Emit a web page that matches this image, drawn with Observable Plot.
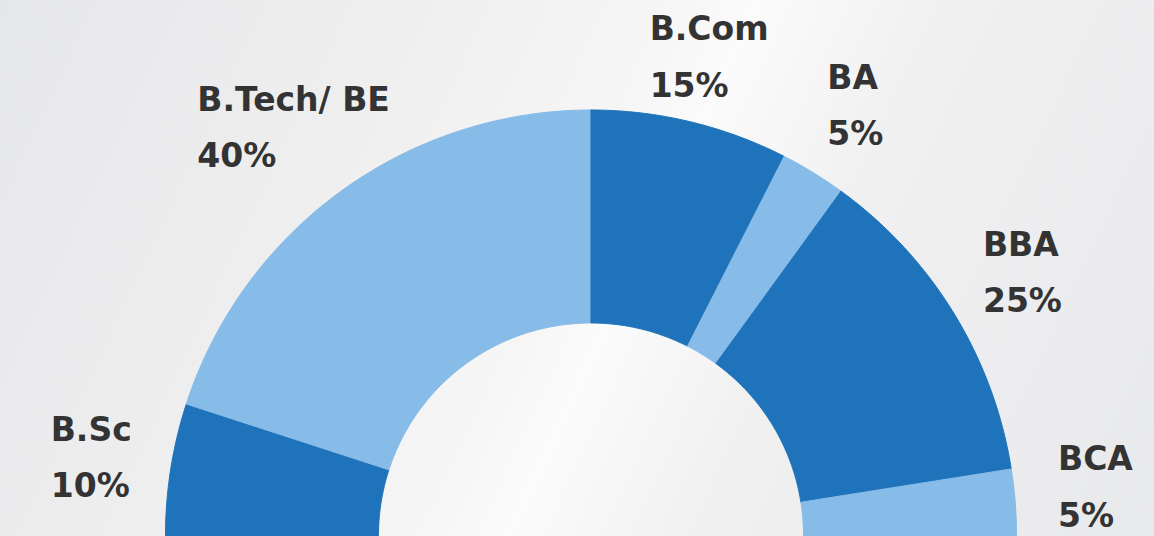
<!DOCTYPE html>
<html>
<head>
<meta charset="utf-8">
<script src="https://cdn.jsdelivr.net/npm/d3@7"></script>
<script src="https://cdn.jsdelivr.net/npm/@observablehq/plot@0.6"></script>
<style>
  html, body { margin: 0; padding: 0; }
  body {
    width: 1154px; height: 536px; overflow: hidden;
    background: linear-gradient(115deg, #e6e7e9 0%, #efeff0 30%, #f6f6f6 48%, #fbfbfb 54%, #f0f0f1 68%, #e8e9eb 100%);
  }
  svg { display: block; background: transparent !important; }
</style>
</head>
<body>
<div id="chart"></div>
<script>
// ---- data ----
const categories = ["B.Sc", "B.Tech/ BE", "B.Com", "BA", "BBA", "BCA"];
const shares = [10, 40, 15, 5, 25, 5];

// ---- styles ----
const sliceColors = ["#1e73ba", "#87bbe8", "#1e73ba", "#87bbe8", "#1e73ba", "#87bbe8"];
const W = 1154, H = 536;
const cx = 590.5, cy = 535, Rpx = 425.5;  // centre & outer radius in pixels
const innerRatio = 212.5 / 425.5;
const labelRadiusPx = 506;
const labelTopPx = 55, labelBottomPx = 485;  // keep label blocks inside the frame
const fontSize = 33;
const fontFamily = "'DejaVu Sans', sans-serif";

// ---- geometry (unit = outer radius) ----
const total = d3.sum(shares);
let acc = 0;
const slices = categories.map((c, i) => {
  const a0 = -Math.PI / 2 + (acc / total) * Math.PI;
  acc += shares[i];
  const a1 = -Math.PI / 2 + (acc / total) * Math.PI;
  return {category: c, share: shares[i], a0, a1, color: sliceColors[i]};
});

function polygon(s) {
  const n = Math.max(4, Math.ceil((s.a1 - s.a0) / 0.01));
  const pts = [];
  for (let k = 0; k <= n; k++) {
    const a = s.a0 + (s.a1 - s.a0) * k / n;
    pts.push({x: Math.sin(a), y: Math.cos(a)});
  }
  for (let k = n; k >= 0; k--) {
    const a = s.a0 + (s.a1 - s.a0) * k / n;
    pts.push({x: innerRatio * Math.sin(a), y: innerRatio * Math.cos(a)});
  }
  pts.push(pts[0]);
  return pts;
}

// left-aligned label blocks centred on each slice's mid-angle
const ctx = document.createElement("canvas").getContext("2d");
ctx.font = `700 ${fontSize}px ${fontFamily}`;
const labels = slices.map(s => {
  const mid = (s.a0 + s.a1) / 2;
  const pct = s.share + "%";
  const w = Math.max(ctx.measureText(s.category).width, ctx.measureText(pct).width);
  const px = cx + labelRadiusPx * Math.sin(mid) - w / 2;
  let py = cy - labelRadiusPx * Math.cos(mid);
  py = Math.min(labelBottomPx, Math.max(labelTopPx, py));
  return {
    x: (px - cx) / Rpx,
    y: (cy - py) / Rpx,
    text: s.category + "\n" + pct
  };
});

const chart = Plot.plot({
  width: W,
  height: H,
  margin: 0,
  x: {domain: [-cx / Rpx, (W - cx) / Rpx], range: [0, W], axis: null},
  y: {domain: [(cy - H) / Rpx, cy / Rpx], range: [H, 0], axis: null},
  style: {background: "transparent", overflow: "visible"},
  marks: [
    ...slices.map(s => Plot.line(polygon(s), {
      x: "x", y: "y", fill: s.color, stroke: s.color, strokeWidth: 1, curve: "linear"
    })),
    Plot.text(labels, {
      x: "x", y: "y", text: "text", dy: -5,
      textAnchor: "start", lineAnchor: "middle", lineHeight: 1.7,
      fontSize, fontWeight: 700, fontFamily, fill: "#333333"
    })
  ]
});
document.getElementById("chart").append(chart);
</script>
</body>
</html>
